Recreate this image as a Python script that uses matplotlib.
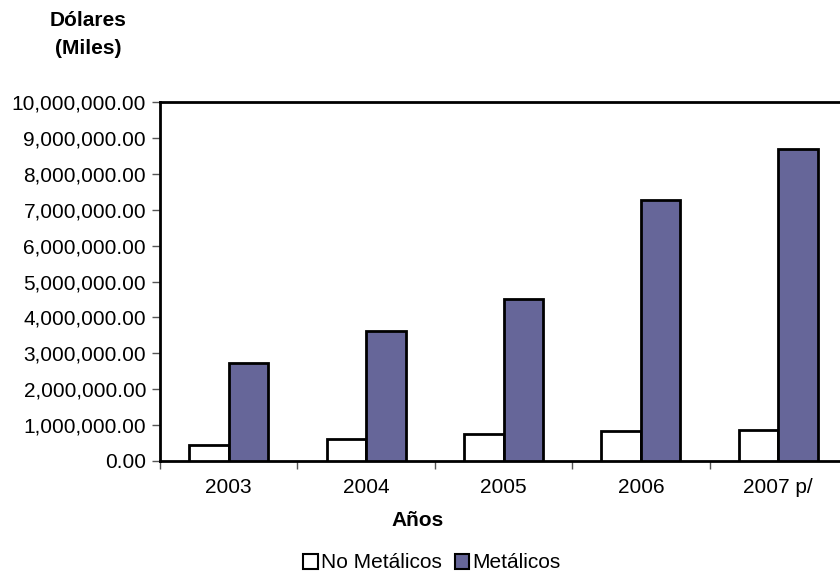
import matplotlib
matplotlib.use("Agg")
import matplotlib.pyplot as plt
import numpy as np
from matplotlib.ticker import FuncFormatter, FixedLocator
from matplotlib.patches import Patch

plt.rcParams['font.family'] = ['Liberation Sans', 'DejaVu Sans']

years = ["2003", "2004", "2005", "2006", "2007 p/"]
no_metalicos = [446000, 613000, 752000, 836000, 864000]
metalicos = [2730000, 3620000, 4510000, 7260000, 8690000]
series_names = ["No Metálicos", "Metálicos"]

FS = 15
fig = plt.figure(figsize=(8.4, 5.73), dpi=100)
ax = fig.add_axes([160/840, 112/573, 687/840, 359/573])

x = np.arange(len(years))
w = 0.287
ax.bar(x - w/2, no_metalicos, w, color='white', edgecolor='black', linewidth=2, zorder=3)
ax.bar(x + w/2, metalicos, w, color='#666699', edgecolor='black', linewidth=2, zorder=3)

ax.set_xlim(-0.5, len(years) - 0.5)
ax.set_ylim(0, 10000000)
ax.set_yticks(np.arange(0, 10000001, 1000000))
ax.yaxis.set_major_formatter(FuncFormatter(lambda v, p: f"{v:,.2f}"))
ax.set_xticks(x)
ax.set_xticklabels(years)
ax.tick_params(axis='x', which='major', length=0, pad=12, labelsize=FS)
ax.xaxis.set_minor_locator(FixedLocator(np.arange(-0.5, len(years), 1.0)))
ax.tick_params(axis='x', which='minor', length=6, width=1, color='#555555', direction='out')
ax.tick_params(axis='y', length=6, width=1, color='#555555', labelsize=FS, pad=4)

for s in ['left', 'bottom', 'top', 'right']:
    ax.spines[s].set_linewidth(2)
    ax.spines[s].set_color('black')

fig.text(88/840, 1 - 35/573, "Dólares\n(Miles)", ha='center', va='center',
         fontsize=FS, fontweight='bold', linespacing=1.6)
fig.text(418/840, 1 - 521/573, "Años", ha='center', va='center', fontsize=FS, fontweight='bold')

handles = [Patch(facecolor='white', edgecolor='black', linewidth=1.5),
           Patch(facecolor='#666699', edgecolor='black', linewidth=1.5)]
fig.legend(handles, series_names, loc='center', bbox_to_anchor=(432/840, 1 - 563/573),
           ncol=2, frameon=False, fontsize=FS, handlelength=0.7, handleheight=0.7,
           handletextpad=0.15, columnspacing=0.6, borderaxespad=0)

fig.savefig("out.png", dpi=100)
